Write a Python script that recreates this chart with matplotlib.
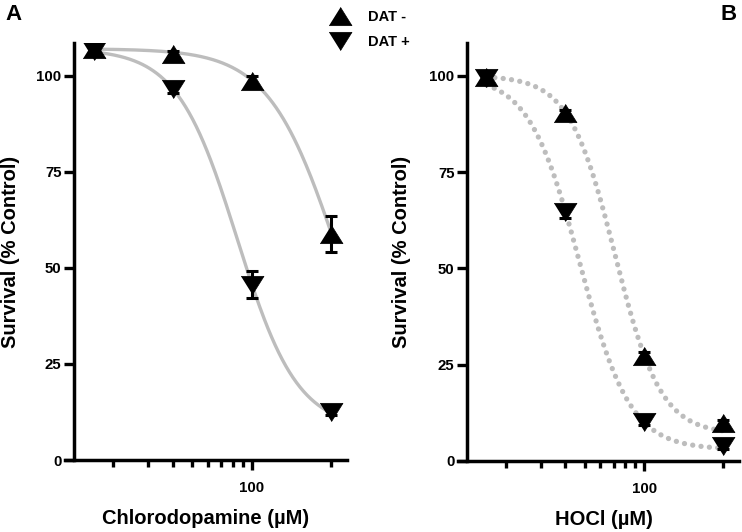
import numpy as np
import matplotlib.pyplot as plt
from matplotlib.lines import Line2D

plt.rcParams['font.family'] = ['Liberation Sans', 'DejaVu Sans']
plt.rcParams['font.weight'] = 'bold'

# concentrations (uM)
conc = [16, 40, 100, 250]

# A: chlorodopamine, survival % control
cda_minus = [107.0, 105.7, 98.7, 58.9]
cda_minus_err = [1.0, 0.8, 1.2, 4.7]
cda_plus = [106.3, 96.6, 45.6, 12.5]
cda_plus_err = [1.0, 1.0, 3.5, 0.8]

# B: HOCl, survival % control
hocl_minus = [99.6, 90.4, 27.3, 9.9]
hocl_minus_err = [0.8, 0.8, 1.0, 0.8]
hocl_plus = [99.4, 64.7, 10.2, 3.9]
hocl_plus_err = [0.8, 1.5, 0.8, 0.8]

# sigmoid fits: top, bottom, EC50, hill slope
fit_cda_minus = (107.0, 0.0, 272.0, 2.48)
fit_cda_plus = (107.0, 8.0, 84.3, 2.87)
fit_hocl_minus = (100.0, 7.0, 71.2, 3.75)
fit_hocl_plus = (100.0, 3.0, 47.2, 3.4)

xticks_minor = [20, 30, 40, 50, 60, 70, 80, 90, 250]
yticks = [0, 25, 50, 75, 100]

up = [(-1, -0.8), (1, -0.8), (0, 0.8)]
down = [(-1, 0.8), (1, 0.8), (0, -0.8)]
curve_col = '#bdbdbd'
MS = 16.5


def hill(x, p):
    top, bot, ec50, h = p
    return bot + (top - bot) / (1 + (x / ec50) ** h)


fig = plt.figure(figsize=(7.42, 5.32), dpi=100)
ax_a = fig.add_axes([65/742, 72/532, 282/742, 417/532])
ax_b = fig.add_axes([458/742, 71/532, 281/742, 418/532])

xs = np.logspace(np.log10(conc[0]), np.log10(conc[-1]), 200)

# panel A - solid fit lines
ax_a.plot(xs, hill(xs, fit_cda_minus), color=curve_col, lw=2.4, zorder=1)
ax_a.plot(xs, hill(xs, fit_cda_plus), color=curve_col, lw=2.4, zorder=1)
ax_a.errorbar(conc, cda_minus, yerr=cda_minus_err, fmt='none', ecolor='k',
              elinewidth=2.2, capsize=4.3, capthick=2.2, zorder=2)
ax_a.errorbar(conc, cda_plus, yerr=cda_plus_err, fmt='none', ecolor='k',
              elinewidth=2.2, capsize=4.3, capthick=2.2, zorder=2)
ax_a.plot(conc, cda_minus, ls='none', marker=up, ms=MS, color='k', mew=0.5, zorder=3)
ax_a.plot(conc, cda_plus, ls='none', marker=down, ms=MS, color='k', mew=0.5, zorder=3)

# panel B - dotted fit lines
for p in (fit_hocl_minus, fit_hocl_plus):
    ax_b.plot(xs, hill(xs, p), color=curve_col, lw=3.8, ls=(0, (0.01, 1.58)),
              dash_capstyle='round', zorder=1)
ax_b.errorbar(conc, hocl_minus, yerr=hocl_minus_err, fmt='none', ecolor='k',
              elinewidth=2.2, capsize=4.3, capthick=2.2, zorder=2)
ax_b.errorbar(conc, hocl_plus, yerr=hocl_plus_err, fmt='none', ecolor='k',
              elinewidth=2.2, capsize=4.3, capthick=2.2, zorder=2)
ax_b.plot(conc, hocl_minus, ls='none', marker=up, ms=MS, color='k', mew=0.5, zorder=3)
ax_b.plot(conc, hocl_plus, ls='none', marker=down, ms=MS, color='k', mew=0.5, zorder=3)

for ax in (ax_a, ax_b):
    ax.set_xscale('log')
    ax.set_xlim(11.5, 300)
    ax.set_ylim(0, 108.5)
    ax.spines['top'].set_visible(False)
    ax.spines['right'].set_visible(False)
    ax.spines['left'].set_position(('data', 12.75))
    for s in ('left', 'bottom'):
        ax.spines[s].set_linewidth(2.5)
    ax.set_xticks([100])
    ax.set_xticklabels(['100'])
    ax.set_xticks(xticks_minor, minor=True)
    ax.xaxis.set_minor_formatter(plt.NullFormatter())
    ax.set_yticks(yticks)
    ax.set_yticklabels([str(v) for v in yticks])
    ax.tick_params(axis='x', which='major', length=7, width=2.4, labelsize=10.8, pad=8)
    ax.tick_params(axis='x', which='minor', length=4.8, width=2.4)
    ax.tick_params(axis='y', length=7.5, width=2.4, labelsize=10.8, pad=1.5)
    ax.set_ylabel('Survival (% Control)', fontsize=14.5, fontweight='bold')
    ax.patch.set_visible(False)

ax_a.set_xlabel('Chlorodopamine (µM)', fontsize=14.5, fontweight='bold')
ax_b.set_xlabel('HOCl (µM)', fontsize=14.5, fontweight='bold')
ax_a.yaxis.set_label_coords(-0.158, 0.5)
ax_b.yaxis.set_label_coords(-0.166, 0.5)
ax_a.xaxis.set_label_coords(0.5, -0.118)
ax_b.xaxis.set_label_coords(0.52, -0.118)

handles = [Line2D([], [], ls='none', marker=up, ms=MS, color='k', mew=0.5),
           Line2D([], [], ls='none', marker=down, ms=MS, color='k', mew=0.5)]
fig.legend(handles, ['DAT -', 'DAT +'], loc='upper left',
           bbox_to_anchor=(329/742, 1 - 10/532), frameon=False,
           fontsize=10.5, handlelength=1.5, handletextpad=1.15,
           labelspacing=0.75, borderpad=0, borderaxespad=0)

fig.text(5/742, 1 - 4/532, 'A', fontsize=16, fontweight='bold', va='top')
fig.text(721/742, 1 - 4/532, 'B', fontsize=16, fontweight='bold', va='top')

fig.savefig('out.png', dpi=100)
